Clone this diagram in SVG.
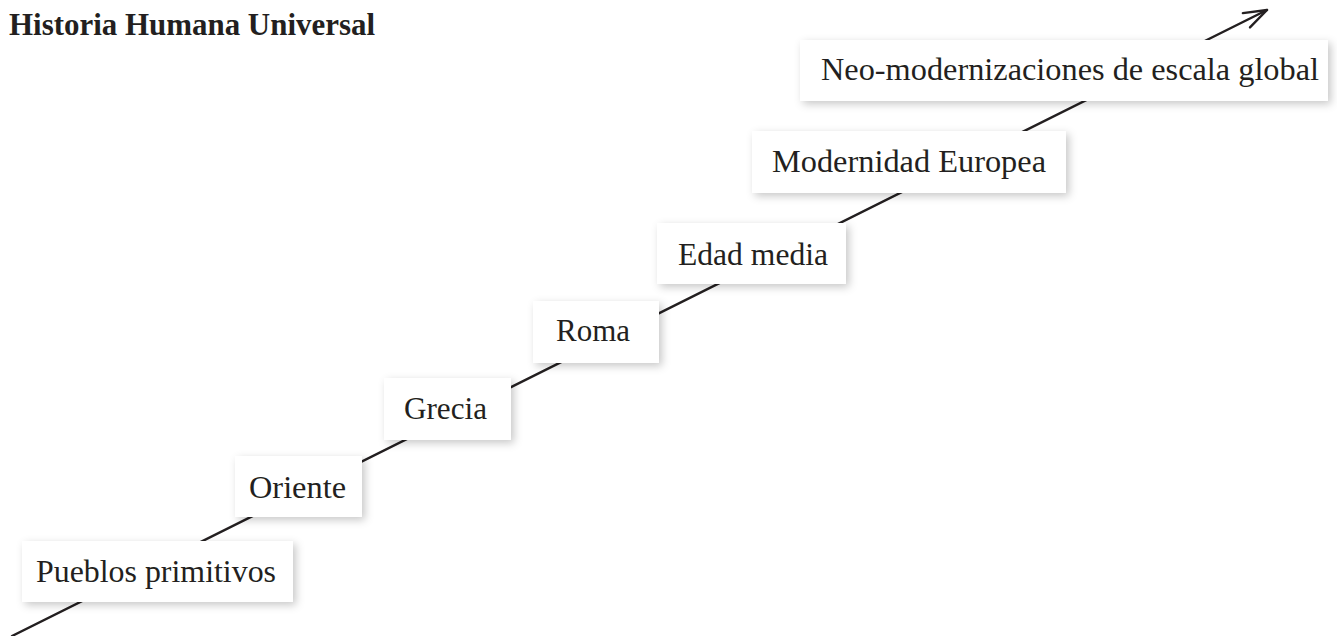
<svg xmlns="http://www.w3.org/2000/svg" width="1337" height="636" viewBox="0 0 1337 636">
  <defs>
    <style>
      .bg { fill: #ffffff; }
      .box { fill: #ffffff; filter: url(#shadow); }
      .lbl { font-family: "Liberation Serif", "Times New Roman", serif; font-size: 32px; fill: #231f20; }
      .title { font-family: "Liberation Serif", "Times New Roman", serif; font-size: 31px; font-weight: bold; fill: #231f20; }
      .axis { stroke: #231f20; stroke-width: 2.4; fill: none; stroke-linecap: round; }
      .head { stroke: #231f20; stroke-width: 2.4; fill: none; stroke-linecap: round; stroke-linejoin: round; }
    </style>
    <filter id="shadow" x="-20%" y="-40%" width="140%" height="190%">
      <feDropShadow dx="3" dy="3" stdDeviation="4" flood-color="#000000" flood-opacity="0.22"/>
    </filter>
    <marker id="arrow" markerUnits="userSpaceOnUse" markerWidth="30" markerHeight="20" refX="0" refY="0" orient="auto" overflow="visible">
      <path class="head" d="M -23,-8 L 0,0 L -23,8"/>
    </marker>
  </defs>

  <rect class="bg" x="0" y="0" width="1337" height="636"/>

  <text id="title" class="title" x="9" y="35" textLength="366" lengthAdjust="spacingAndGlyphs">Historia Humana Universal</text>

  <g id="connectors">
    <line class="axis" x1="12" y1="636" x2="1267" y2="10" marker-end="url(#arrow)"/>
  </g>

  <g id="node-pueblos">
    <rect class="box" x="22" y="541" width="271" height="61"/>
    <text class="lbl" x="36" y="582" textLength="240" lengthAdjust="spacingAndGlyphs">Pueblos primitivos</text>
  </g>
  <g id="node-oriente">
    <rect class="box" x="235" y="456" width="127" height="61"/>
    <text class="lbl" x="249" y="498" textLength="97" lengthAdjust="spacingAndGlyphs">Oriente</text>
  </g>
  <g id="node-grecia">
    <rect class="box" x="384" y="378" width="127" height="62"/>
    <text class="lbl" x="404" y="419" textLength="83" lengthAdjust="spacingAndGlyphs">Grecia</text>
  </g>
  <g id="node-roma">
    <rect class="box" x="533" y="301" width="126" height="62"/>
    <text class="lbl" x="556" y="341" textLength="74" lengthAdjust="spacingAndGlyphs">Roma</text>
  </g>
  <g id="node-edad-media">
    <rect class="box" x="657" y="223" width="189" height="61"/>
    <text class="lbl" x="678" y="265" textLength="150" lengthAdjust="spacingAndGlyphs">Edad media</text>
  </g>
  <g id="node-modernidad">
    <rect class="box" x="752" y="131" width="314" height="62"/>
    <text class="lbl" x="772" y="172" textLength="274" lengthAdjust="spacingAndGlyphs">Modernidad Europea</text>
  </g>
  <g id="node-neo">
    <rect class="box" x="800" y="40" width="528" height="61"/>
    <text class="lbl" x="821" y="80" textLength="498" lengthAdjust="spacingAndGlyphs">Neo-modernizaciones de escala global</text>
  </g>
</svg>
